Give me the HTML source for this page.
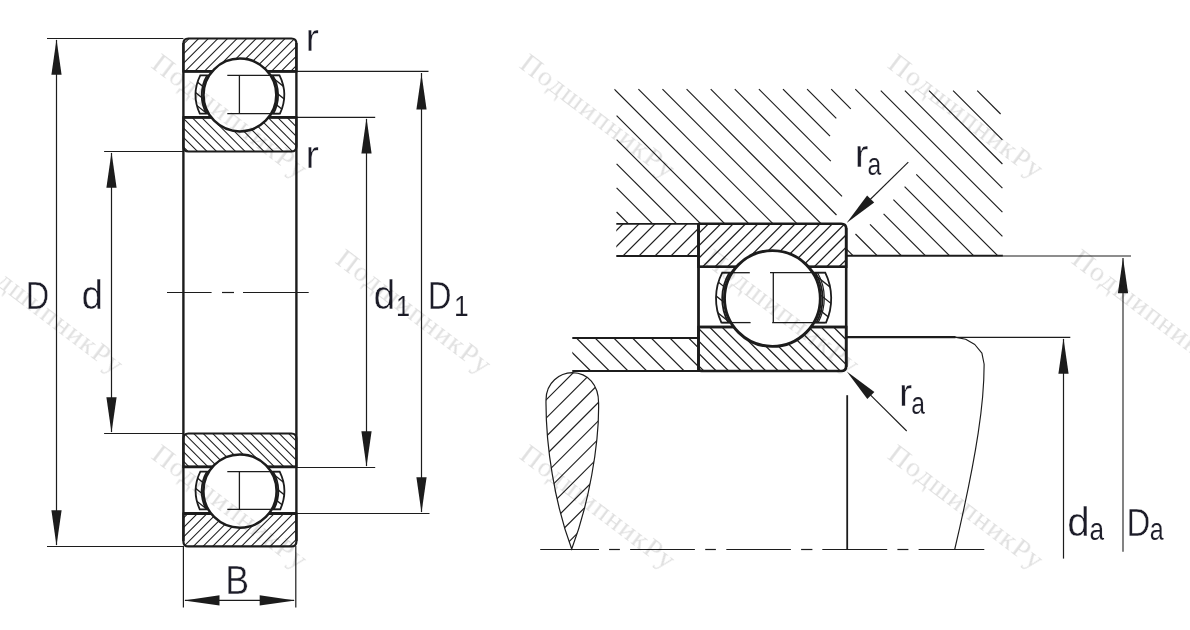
<!DOCTYPE html>
<html><head><meta charset="utf-8"><title>Bearing</title>
<style>html,body{margin:0;padding:0;background:#fff;}svg{display:block}text{font-family:"Liberation Sans",sans-serif;}text.wm{font-family:"Liberation Serif",serif;}</style>
</head><body>
<svg width="1190" height="630" viewBox="0 0 1190 630">
<rect width="1190" height="630" fill="#fff"/>
<defs>
<clipPath id="coU"><path d="M188.4,38.5 L291.4,38.5 Q296.4,38.5 296.4,43.5 L296.4,71.3 Q296.4,71.3 296.4,71.3 L183.4,71.3 Q183.4,71.3 183.4,71.3 L183.4,43.5 Q183.4,38.5 188.4,38.5 Z"/></clipPath><clipPath id="ciU"><path d="M183.4,117.4 L296.4,117.4 Q296.4,117.4 296.4,117.4 L296.4,146.5 Q296.4,151.5 291.4,151.5 L188.4,151.5 Q183.4,151.5 183.4,146.5 L183.4,117.4 Q183.4,117.4 183.4,117.4 Z"/></clipPath>
<clipPath id="cgUl"><path d="M209.23,75.40 L200.28,75.40 A44.2,44.2 0 0 0 199.85,113.70 L208.67,113.70 A36.4,36.4 0 0 1 209.23,75.40 Z"/></clipPath>
<clipPath id="cgUr"><path d="M270.57,75.40 L279.52,75.40 A44.2,44.2 0 0 1 279.95,113.70 L271.13,113.70 A36.4,36.4 0 0 0 270.57,75.40 Z"/></clipPath>
<clipPath id="coL"><path d="M183.4,513.5 L296.4,513.5 Q296.4,513.5 296.4,513.5 L296.4,541.4 Q296.4,546.4 291.4,546.4 L188.4,546.4 Q183.4,546.4 183.4,541.4 L183.4,513.5 Q183.4,513.5 183.4,513.5 Z"/></clipPath><clipPath id="ciL"><path d="M188.4,433.5 L291.4,433.5 Q296.4,433.5 296.4,438.5 L296.4,466.9 Q296.4,466.9 296.4,466.9 L183.4,466.9 Q183.4,466.9 183.4,466.9 L183.4,438.5 Q183.4,433.5 188.4,433.5 Z"/></clipPath>
<clipPath id="cgLl"><path d="M209.03,471.60 L200.33,471.60 A44.2,44.2 0 0 0 199.72,509.30 L208.25,509.30 A36.6,36.6 0 0 1 209.03,471.60 Z"/></clipPath>
<clipPath id="cgLr"><path d="M270.97,471.60 L279.67,471.60 A44.2,44.2 0 0 1 280.28,509.30 L271.75,509.30 A36.6,36.6 0 0 0 270.97,471.60 Z"/></clipPath>
<clipPath id="hs"><path d="M614.3,88 L1004,88 L1004,256 L846.2,256 L846.2,223.8 L614.3,223.8 Z"/></clipPath>
<clipPath id="s1"><rect x="616.3" y="223.8" width="82.20000000000005" height="32.19999999999999"/></clipPath>
<clipPath id="s2"><rect x="572.3" y="337.7" width="126.20000000000005" height="33.30000000000001"/></clipPath>
<clipPath id="td"><path d="M572.3,372.7 C560,373 546,382 546,400 C545.6,445 554.5,503 571.7,549 C588.5,505 599.3,445 598.6,403 C598.6,385 588,373 572.3,372.7 Z"/></clipPath>
<clipPath id="coR"><path d="M699.0,223.8 L841.2,223.8 Q846.2,223.8 846.2,228.8 L846.2,266.8 Q846.2,266.8 846.2,266.8 L698.5,266.8 Q698.5,266.8 698.5,266.8 L698.5,224.3 Q698.5,223.8 699.0,223.8 Z"/></clipPath><clipPath id="ciR"><path d="M698.5,327.0 L846.2,327.0 Q846.2,327.0 846.2,327.0 L846.2,366.0 Q846.2,371.0 841.2,371.0 L701.5,371.0 Q698.5,371.0 698.5,368.0 L698.5,327.0 Q698.5,327.0 698.5,327.0 Z"/></clipPath>
<clipPath id="cgRl"><path d="M732.04,272.70 L722.25,272.70 A56.4,56.4 0 0 0 721.41,322.60 L731.00,322.60 A47.9,47.9 0 0 1 732.04,272.70 Z"/></clipPath>
<clipPath id="cgRr"><path d="M812.76,272.70 L825.24,272.70 A58.8,58.8 0 0 1 826.03,322.60 L813.80,322.60 A47.9,47.9 0 0 0 812.76,272.70 Z"/></clipPath>
</defs>
<g clip-path="url(#coU)" stroke="#1c1c1c" stroke-width="1.05">
<line x1="181.50" y1="36.50" x2="144.70" y2="73.30"/>
<line x1="191.10" y1="36.50" x2="154.30" y2="73.30"/>
<line x1="200.70" y1="36.50" x2="163.90" y2="73.30"/>
<line x1="210.30" y1="36.50" x2="173.50" y2="73.30"/>
<line x1="219.90" y1="36.50" x2="183.10" y2="73.30"/>
<line x1="229.50" y1="36.50" x2="192.70" y2="73.30"/>
<line x1="239.10" y1="36.50" x2="202.30" y2="73.30"/>
<line x1="248.70" y1="36.50" x2="211.90" y2="73.30"/>
<line x1="258.30" y1="36.50" x2="221.50" y2="73.30"/>
<line x1="267.90" y1="36.50" x2="231.10" y2="73.30"/>
<line x1="277.50" y1="36.50" x2="240.70" y2="73.30"/>
<line x1="287.10" y1="36.50" x2="250.30" y2="73.30"/>
<line x1="296.70" y1="36.50" x2="259.90" y2="73.30"/>
<line x1="306.30" y1="36.50" x2="269.50" y2="73.30"/>
<line x1="315.90" y1="36.50" x2="279.10" y2="73.30"/>
<line x1="325.50" y1="36.50" x2="288.70" y2="73.30"/>
<line x1="335.10" y1="36.50" x2="298.30" y2="73.30"/>
</g>
<g clip-path="url(#ciU)" stroke="#1c1c1c" stroke-width="1.05">
<line x1="142.50" y1="115.40" x2="180.60" y2="153.50"/>
<line x1="152.00" y1="115.40" x2="190.10" y2="153.50"/>
<line x1="161.50" y1="115.40" x2="199.60" y2="153.50"/>
<line x1="171.00" y1="115.40" x2="209.10" y2="153.50"/>
<line x1="180.50" y1="115.40" x2="218.60" y2="153.50"/>
<line x1="190.00" y1="115.40" x2="228.10" y2="153.50"/>
<line x1="199.50" y1="115.40" x2="237.60" y2="153.50"/>
<line x1="209.00" y1="115.40" x2="247.10" y2="153.50"/>
<line x1="218.50" y1="115.40" x2="256.60" y2="153.50"/>
<line x1="228.00" y1="115.40" x2="266.10" y2="153.50"/>
<line x1="237.50" y1="115.40" x2="275.60" y2="153.50"/>
<line x1="247.00" y1="115.40" x2="285.10" y2="153.50"/>
<line x1="256.50" y1="115.40" x2="294.60" y2="153.50"/>
<line x1="266.00" y1="115.40" x2="304.10" y2="153.50"/>
<line x1="275.50" y1="115.40" x2="313.60" y2="153.50"/>
<line x1="285.00" y1="115.40" x2="323.10" y2="153.50"/>
<line x1="294.50" y1="115.40" x2="332.60" y2="153.50"/>
</g>
<path d="M188.4,38.5 L291.4,38.5 Q296.4,38.5 296.4,43.5 L296.4,71.3 Q296.4,71.3 296.4,71.3 L183.4,71.3 Q183.4,71.3 183.4,71.3 L183.4,43.5 Q183.4,38.5 188.4,38.5 Z" fill="none" stroke="#1c1c1c" stroke-width="2.2" />
<path d="M183.4,117.4 L296.4,117.4 Q296.4,117.4 296.4,117.4 L296.4,146.5 Q296.4,151.5 291.4,151.5 L188.4,151.5 Q183.4,151.5 183.4,146.5 L183.4,117.4 Q183.4,117.4 183.4,117.4 Z" fill="none" stroke="#1c1c1c" stroke-width="2.2" />
<line x1="183.40" y1="71.30" x2="296.40" y2="71.30" stroke="#1c1c1c" stroke-width="2.8" />
<line x1="183.40" y1="117.40" x2="296.40" y2="117.40" stroke="#1c1c1c" stroke-width="2.8" />
<g clip-path="url(#cgUl)" stroke="#1c1c1c" stroke-width="1.3">
<line x1="185.80" y1="72.74" x2="213.40" y2="94.82"/>
<line x1="185.80" y1="84.71" x2="213.40" y2="106.79"/>
<line x1="185.80" y1="96.68" x2="213.40" y2="118.76"/>
</g>
<path d="M209.23,75.40 L200.28,75.40 A44.2,44.2 0 0 0 199.85,113.70 L208.67,113.70 A36.4,36.4 0 0 1 209.23,75.40 Z" fill="none" stroke="#1c1c1c" stroke-width="1.8" />
<path d="M207.11,75.40 A38.2,38.2 0 0 0 206.59,113.70" fill="none" stroke="#1c1c1c" stroke-width="1.8" />
<g clip-path="url(#cgUr)" stroke="#1c1c1c" stroke-width="1.3">
<line x1="266.40" y1="72.74" x2="294.00" y2="94.82"/>
<line x1="266.40" y1="84.71" x2="294.00" y2="106.79"/>
<line x1="266.40" y1="96.68" x2="294.00" y2="118.76"/>
</g>
<path d="M270.57,75.40 L279.52,75.40 A44.2,44.2 0 0 1 279.95,113.70 L271.13,113.70 A36.4,36.4 0 0 0 270.57,75.40 Z" fill="none" stroke="#1c1c1c" stroke-width="1.8" />
<path d="M272.69,75.40 A38.2,38.2 0 0 1 273.21,113.70" fill="none" stroke="#1c1c1c" stroke-width="1.8" />
<circle cx="239.9" cy="95.00" r="36.4" fill="#fff" stroke="#1c1c1c" stroke-width="2.5"/>
<g clip-path="url(#coL)" stroke="#1c1c1c" stroke-width="1.05">
<line x1="180.30" y1="511.50" x2="143.40" y2="548.40"/>
<line x1="189.90" y1="511.50" x2="153.00" y2="548.40"/>
<line x1="199.50" y1="511.50" x2="162.60" y2="548.40"/>
<line x1="209.10" y1="511.50" x2="172.20" y2="548.40"/>
<line x1="218.70" y1="511.50" x2="181.80" y2="548.40"/>
<line x1="228.30" y1="511.50" x2="191.40" y2="548.40"/>
<line x1="237.90" y1="511.50" x2="201.00" y2="548.40"/>
<line x1="247.50" y1="511.50" x2="210.60" y2="548.40"/>
<line x1="257.10" y1="511.50" x2="220.20" y2="548.40"/>
<line x1="266.70" y1="511.50" x2="229.80" y2="548.40"/>
<line x1="276.30" y1="511.50" x2="239.40" y2="548.40"/>
<line x1="285.90" y1="511.50" x2="249.00" y2="548.40"/>
<line x1="295.50" y1="511.50" x2="258.60" y2="548.40"/>
<line x1="305.10" y1="511.50" x2="268.20" y2="548.40"/>
<line x1="314.70" y1="511.50" x2="277.80" y2="548.40"/>
<line x1="324.30" y1="511.50" x2="287.40" y2="548.40"/>
<line x1="333.90" y1="511.50" x2="297.00" y2="548.40"/>
</g>
<g clip-path="url(#ciL)" stroke="#1c1c1c" stroke-width="1.05">
<line x1="144.20" y1="431.50" x2="181.60" y2="468.90"/>
<line x1="153.70" y1="431.50" x2="191.10" y2="468.90"/>
<line x1="163.20" y1="431.50" x2="200.60" y2="468.90"/>
<line x1="172.70" y1="431.50" x2="210.10" y2="468.90"/>
<line x1="182.20" y1="431.50" x2="219.60" y2="468.90"/>
<line x1="191.70" y1="431.50" x2="229.10" y2="468.90"/>
<line x1="201.20" y1="431.50" x2="238.60" y2="468.90"/>
<line x1="210.70" y1="431.50" x2="248.10" y2="468.90"/>
<line x1="220.20" y1="431.50" x2="257.60" y2="468.90"/>
<line x1="229.70" y1="431.50" x2="267.10" y2="468.90"/>
<line x1="239.20" y1="431.50" x2="276.60" y2="468.90"/>
<line x1="248.70" y1="431.50" x2="286.10" y2="468.90"/>
<line x1="258.20" y1="431.50" x2="295.60" y2="468.90"/>
<line x1="267.70" y1="431.50" x2="305.10" y2="468.90"/>
<line x1="277.20" y1="431.50" x2="314.60" y2="468.90"/>
<line x1="286.70" y1="431.50" x2="324.10" y2="468.90"/>
<line x1="296.20" y1="431.50" x2="333.60" y2="468.90"/>
</g>
<path d="M183.4,513.5 L296.4,513.5 Q296.4,513.5 296.4,513.5 L296.4,541.4 Q296.4,546.4 291.4,546.4 L188.4,546.4 Q183.4,546.4 183.4,541.4 L183.4,513.5 Q183.4,513.5 183.4,513.5 Z" fill="none" stroke="#1c1c1c" stroke-width="2.2" />
<path d="M188.4,433.5 L291.4,433.5 Q296.4,433.5 296.4,438.5 L296.4,466.9 Q296.4,466.9 296.4,466.9 L183.4,466.9 Q183.4,466.9 183.4,466.9 L183.4,438.5 Q183.4,433.5 188.4,433.5 Z" fill="none" stroke="#1c1c1c" stroke-width="2.2" />
<line x1="183.40" y1="513.50" x2="296.40" y2="513.50" stroke="#1c1c1c" stroke-width="2.8" />
<line x1="183.40" y1="466.90" x2="296.40" y2="466.90" stroke="#1c1c1c" stroke-width="2.8" />
<g clip-path="url(#cgLl)" stroke="#1c1c1c" stroke-width="1.3">
<line x1="186.00" y1="468.97" x2="213.20" y2="490.73"/>
<line x1="186.00" y1="480.75" x2="213.20" y2="502.51"/>
<line x1="186.00" y1="492.53" x2="213.20" y2="514.29"/>
</g>
<path d="M209.03,471.60 L200.33,471.60 A44.2,44.2 0 0 0 199.72,509.30 L208.25,509.30 A36.6,36.6 0 0 1 209.03,471.60 Z" fill="none" stroke="#1c1c1c" stroke-width="1.8" />
<path d="M206.92,471.60 A38.4,38.4 0 0 0 206.19,509.30" fill="none" stroke="#1c1c1c" stroke-width="1.8" />
<g clip-path="url(#cgLr)" stroke="#1c1c1c" stroke-width="1.3">
<line x1="266.80" y1="468.97" x2="294.00" y2="490.73"/>
<line x1="266.80" y1="480.75" x2="294.00" y2="502.51"/>
<line x1="266.80" y1="492.53" x2="294.00" y2="514.29"/>
</g>
<path d="M270.97,471.60 L279.67,471.60 A44.2,44.2 0 0 1 280.28,509.30 L271.75,509.30 A36.6,36.6 0 0 0 270.97,471.60 Z" fill="none" stroke="#1c1c1c" stroke-width="1.8" />
<path d="M273.08,471.60 A38.4,38.4 0 0 1 273.81,509.30" fill="none" stroke="#1c1c1c" stroke-width="1.8" />
<circle cx="240.0" cy="491.10" r="36.6" fill="#fff" stroke="#1c1c1c" stroke-width="2.5"/>
<line x1="227.30" y1="75.40" x2="279.50" y2="75.40" stroke="#1c1c1c" stroke-width="1.3" />
<line x1="227.30" y1="113.70" x2="279.50" y2="113.70" stroke="#1c1c1c" stroke-width="1.3" />
<line x1="239.40" y1="75.40" x2="239.40" y2="113.70" stroke="#1c1c1c" stroke-width="1.3" />
<line x1="227.30" y1="471.60" x2="279.50" y2="471.60" stroke="#1c1c1c" stroke-width="1.3" />
<line x1="227.30" y1="509.30" x2="279.50" y2="509.30" stroke="#1c1c1c" stroke-width="1.3" />
<line x1="239.40" y1="471.60" x2="239.40" y2="509.30" stroke="#1c1c1c" stroke-width="1.3" />
<line x1="183.40" y1="43.00" x2="183.40" y2="541.00" stroke="#1c1c1c" stroke-width="2.4" />
<line x1="296.40" y1="43.00" x2="296.40" y2="541.00" stroke="#1c1c1c" stroke-width="2.4" />
<line x1="167.00" y1="292.50" x2="211.60" y2="292.50" stroke="#1c1c1c" stroke-width="1.2" />
<line x1="222.00" y1="292.50" x2="234.00" y2="292.50" stroke="#1c1c1c" stroke-width="1.2" />
<line x1="243.00" y1="292.50" x2="308.70" y2="292.50" stroke="#1c1c1c" stroke-width="1.2" />
<line x1="47.00" y1="38.50" x2="183.40" y2="38.50" stroke="#1c1c1c" stroke-width="1.2" />
<line x1="47.00" y1="546.50" x2="183.40" y2="546.50" stroke="#1c1c1c" stroke-width="1.2" />
<line x1="56.50" y1="40.00" x2="56.50" y2="545.00" stroke="#1c1c1c" stroke-width="1.2" />
<polygon points="56.50,39.30 61.60,74.80 51.40,74.80" fill="#1c1c1c"/>
<polygon points="56.50,545.80 51.40,510.30 61.60,510.30" fill="#1c1c1c"/>
<line x1="104.10" y1="151.50" x2="183.40" y2="151.50" stroke="#1c1c1c" stroke-width="1.2" />
<line x1="104.10" y1="433.50" x2="183.40" y2="433.50" stroke="#1c1c1c" stroke-width="1.2" />
<line x1="111.50" y1="153.00" x2="111.50" y2="432.00" stroke="#1c1c1c" stroke-width="1.2" />
<polygon points="111.50,152.20 116.60,187.70 106.40,187.70" fill="#1c1c1c"/>
<polygon points="111.50,432.80 106.40,397.30 116.60,397.30" fill="#1c1c1c"/>
<line x1="296.40" y1="117.30" x2="375.20" y2="117.30" stroke="#1c1c1c" stroke-width="1.2" />
<line x1="296.40" y1="467.50" x2="375.20" y2="467.50" stroke="#1c1c1c" stroke-width="1.2" />
<line x1="366.50" y1="119.00" x2="366.50" y2="466.00" stroke="#1c1c1c" stroke-width="1.2" />
<polygon points="366.50,118.00 371.60,153.50 361.40,153.50" fill="#1c1c1c"/>
<polygon points="366.50,466.80 361.40,431.30 371.60,431.30" fill="#1c1c1c"/>
<line x1="296.40" y1="71.40" x2="428.50" y2="71.40" stroke="#1c1c1c" stroke-width="1.2" />
<line x1="296.40" y1="513.50" x2="429.50" y2="513.50" stroke="#1c1c1c" stroke-width="1.2" />
<line x1="421.50" y1="73.00" x2="421.50" y2="512.00" stroke="#1c1c1c" stroke-width="1.2" />
<polygon points="421.50,74.00 426.60,109.50 416.40,109.50" fill="#1c1c1c"/>
<polygon points="421.50,512.80 416.40,477.30 426.60,477.30" fill="#1c1c1c"/>
<line x1="183.40" y1="546.00" x2="183.40" y2="607.60" stroke="#1c1c1c" stroke-width="1.2" />
<line x1="295.80" y1="546.00" x2="295.80" y2="607.60" stroke="#1c1c1c" stroke-width="1.2" />
<line x1="185.00" y1="600.40" x2="294.00" y2="600.40" stroke="#1c1c1c" stroke-width="1.2" />
<polygon points="184.00,600.40 219.50,595.30 219.50,605.50" fill="#1c1c1c"/>
<polygon points="295.20,600.40 259.70,605.50 259.70,595.30" fill="#1c1c1c"/>
<g opacity="0.99">
<text transform="translate(25.84,309.36) scale(0.3249,0.3904)" font-size="100" fill="#1a1a26" stroke="#fff" stroke-width="1.12">D</text>
<text transform="translate(81.47,309.36) scale(0.3875,0.3994)" font-size="100" fill="#1a1a26" stroke="#fff" stroke-width="1.02">d</text>
<text transform="translate(373.45,309.36) scale(0.3920,0.3994)" font-size="100" fill="#1a1a26" stroke="#fff" stroke-width="1.01">d</text>
<text transform="translate(395.98,316.22) scale(0.2549,0.2893)" font-size="100" fill="#1a1a26" stroke="#fff" stroke-width="0.59">1</text>
<text transform="translate(427.69,309.36) scale(0.3299,0.3904)" font-size="100" fill="#1a1a26" stroke="#fff" stroke-width="1.11">D</text>
<text transform="translate(453.91,316.22) scale(0.2642,0.2893)" font-size="100" fill="#1a1a26" stroke="#fff" stroke-width="0.58">1</text>
<text transform="translate(305.45,50.66) scale(0.4016,0.3933)" font-size="100" fill="#1a1a26" stroke="#fff" stroke-width="1.01">r</text>
<text transform="translate(305.45,168.16) scale(0.4016,0.3952)" font-size="100" fill="#1a1a26" stroke="#fff" stroke-width="1.00">r</text>
<text transform="translate(225.37,593.86) scale(0.3578,0.4049)" font-size="100" fill="#1a1a26" stroke="#fff" stroke-width="1.05">B</text>
</g>
<g clip-path="url(#hs)" stroke="#1c1c1c" stroke-width="1.15">
<line x1="616.60" y1="260.20" x2="616.40" y2="260.00"/>
<line x1="616.60" y1="236.10" x2="640.50" y2="260.00"/>
<line x1="616.60" y1="212.00" x2="664.60" y2="260.00"/>
<line x1="616.60" y1="187.90" x2="688.70" y2="260.00"/>
<line x1="616.60" y1="163.80" x2="712.80" y2="260.00"/>
<line x1="616.60" y1="139.70" x2="736.90" y2="260.00"/>
<line x1="616.60" y1="115.60" x2="761.00" y2="260.00"/>
<line x1="614.30" y1="89.20" x2="785.10" y2="260.00"/>
<line x1="638.40" y1="89.20" x2="809.20" y2="260.00"/>
<line x1="662.50" y1="89.20" x2="833.30" y2="260.00"/>
<line x1="686.60" y1="89.20" x2="857.40" y2="260.00"/>
<line x1="710.70" y1="89.20" x2="836.50" y2="215.00"/>
<line x1="855.50" y1="234.00" x2="881.50" y2="260.00"/>
<line x1="734.80" y1="89.20" x2="842.00" y2="196.40"/>
<line x1="870.00" y1="224.40" x2="905.60" y2="260.00"/>
<line x1="758.90" y1="89.20" x2="830.80" y2="161.10"/>
<line x1="883.60" y1="213.90" x2="929.70" y2="260.00"/>
<line x1="783.00" y1="89.20" x2="830.00" y2="136.20"/>
<line x1="893.40" y1="199.60" x2="953.80" y2="260.00"/>
<line x1="807.10" y1="89.20" x2="836.30" y2="118.40"/>
<line x1="904.60" y1="186.70" x2="977.90" y2="260.00"/>
<line x1="831.20" y1="89.20" x2="850.80" y2="108.80"/>
<line x1="916.30" y1="174.30" x2="1002.00" y2="260.00"/>
<line x1="855.30" y1="89.20" x2="1002.40" y2="236.30"/>
<line x1="880.80" y1="90.60" x2="1002.40" y2="212.20"/>
<line x1="904.90" y1="90.60" x2="1002.40" y2="188.10"/>
<line x1="929.00" y1="90.60" x2="1002.40" y2="164.00"/>
<line x1="953.10" y1="90.60" x2="1002.40" y2="139.90"/>
<line x1="977.20" y1="90.60" x2="1000.60" y2="114.00"/>
</g>
<g clip-path="url(#s1)" stroke="#1c1c1c" stroke-width="1.2">
<line x1="609.10" y1="221.80" x2="572.90" y2="258.00"/>
<line x1="625.10" y1="221.80" x2="588.90" y2="258.00"/>
<line x1="641.10" y1="221.80" x2="604.90" y2="258.00"/>
<line x1="657.10" y1="221.80" x2="620.90" y2="258.00"/>
<line x1="673.10" y1="221.80" x2="636.90" y2="258.00"/>
<line x1="689.10" y1="221.80" x2="652.90" y2="258.00"/>
<line x1="705.10" y1="221.80" x2="668.90" y2="258.00"/>
<line x1="721.10" y1="221.80" x2="684.90" y2="258.00"/>
<line x1="737.10" y1="221.80" x2="700.90" y2="258.00"/>
</g>
<line x1="616.30" y1="223.80" x2="698.50" y2="223.80" stroke="#1c1c1c" stroke-width="1.8" />
<line x1="616.30" y1="256.00" x2="698.50" y2="256.00" stroke="#1c1c1c" stroke-width="2.2" />
<line x1="846.20" y1="255.80" x2="1002.90" y2="255.80" stroke="#1c1c1c" stroke-width="2.0" />
<g clip-path="url(#s2)" stroke="#1c1c1c" stroke-width="1.2">
<line x1="536.70" y1="335.70" x2="574.00" y2="373.00"/>
<line x1="555.40" y1="335.70" x2="592.70" y2="373.00"/>
<line x1="574.10" y1="335.70" x2="611.40" y2="373.00"/>
<line x1="592.80" y1="335.70" x2="630.10" y2="373.00"/>
<line x1="611.50" y1="335.70" x2="648.80" y2="373.00"/>
<line x1="630.20" y1="335.70" x2="667.50" y2="373.00"/>
<line x1="648.90" y1="335.70" x2="686.20" y2="373.00"/>
<line x1="667.60" y1="335.70" x2="704.90" y2="373.00"/>
<line x1="686.30" y1="335.70" x2="723.60" y2="373.00"/>
<line x1="705.00" y1="335.70" x2="742.30" y2="373.00"/>
</g>
<line x1="572.30" y1="338.00" x2="698.50" y2="338.00" stroke="#1c1c1c" stroke-width="2.2" />
<line x1="572.30" y1="371.00" x2="701.50" y2="371.00" stroke="#1c1c1c" stroke-width="2.2" />
<line x1="846.20" y1="337.10" x2="955.50" y2="337.10" stroke="#1c1c1c" stroke-width="2.2" />
<path d="M954.8,337.1 L965.7,339.3 L974.8,344.5 L981.9,353.1 L984.1,364 C984.3,400 978,450 954.7,549.5" fill="none" stroke="#1c1c1c" stroke-width="1.15" stroke-linejoin="round"/>
<g clip-path="url(#td)" stroke="#1c1c1c" stroke-width="1.15">
<line x1="539.40" y1="370.00" x2="357.40" y2="552.00"/>
<line x1="557.70" y1="370.00" x2="375.70" y2="552.00"/>
<line x1="576.00" y1="370.00" x2="394.00" y2="552.00"/>
<line x1="594.30" y1="370.00" x2="412.30" y2="552.00"/>
<line x1="612.60" y1="370.00" x2="430.60" y2="552.00"/>
<line x1="630.90" y1="370.00" x2="448.90" y2="552.00"/>
<line x1="649.20" y1="370.00" x2="467.20" y2="552.00"/>
<line x1="667.50" y1="370.00" x2="485.50" y2="552.00"/>
<line x1="685.80" y1="370.00" x2="503.80" y2="552.00"/>
<line x1="704.10" y1="370.00" x2="522.10" y2="552.00"/>
<line x1="722.40" y1="370.00" x2="540.40" y2="552.00"/>
<line x1="740.70" y1="370.00" x2="558.70" y2="552.00"/>
<line x1="759.00" y1="370.00" x2="577.00" y2="552.00"/>
<line x1="777.30" y1="370.00" x2="595.30" y2="552.00"/>
<line x1="795.60" y1="370.00" x2="613.60" y2="552.00"/>
</g>
<path d="M572.3,372.7 C560,373 546,382 546,400 C545.6,445 554.5,503 571.7,549 C588.5,505 599.3,445 598.6,403 C598.6,385 588,373 572.3,372.7 Z" fill="none" stroke="#1c1c1c" stroke-width="1.2" />
<line x1="540.20" y1="549.50" x2="599.00" y2="549.50" stroke="#1c1c1c" stroke-width="1.2" />
<line x1="609.10" y1="549.50" x2="619.90" y2="549.50" stroke="#1c1c1c" stroke-width="1.2" />
<line x1="630.10" y1="549.50" x2="694.90" y2="549.50" stroke="#1c1c1c" stroke-width="1.2" />
<line x1="705.20" y1="549.50" x2="715.90" y2="549.50" stroke="#1c1c1c" stroke-width="1.2" />
<line x1="726.30" y1="549.50" x2="790.90" y2="549.50" stroke="#1c1c1c" stroke-width="1.2" />
<line x1="801.10" y1="549.50" x2="812.40" y2="549.50" stroke="#1c1c1c" stroke-width="1.2" />
<line x1="822.30" y1="549.50" x2="887.20" y2="549.50" stroke="#1c1c1c" stroke-width="1.2" />
<line x1="897.40" y1="549.50" x2="908.40" y2="549.50" stroke="#1c1c1c" stroke-width="1.2" />
<line x1="918.60" y1="549.50" x2="984.30" y2="549.50" stroke="#1c1c1c" stroke-width="1.2" />
<line x1="847.20" y1="395.20" x2="847.20" y2="549.50" stroke="#1c1c1c" stroke-width="1.8" />
<g clip-path="url(#coR)" stroke="#1c1c1c" stroke-width="1.25">
<line x1="698.00" y1="221.80" x2="651.00" y2="268.80"/>
<line x1="710.40" y1="221.80" x2="663.40" y2="268.80"/>
<line x1="722.80" y1="221.80" x2="675.80" y2="268.80"/>
<line x1="735.20" y1="221.80" x2="688.20" y2="268.80"/>
<line x1="747.60" y1="221.80" x2="700.60" y2="268.80"/>
<line x1="760.00" y1="221.80" x2="713.00" y2="268.80"/>
<line x1="772.40" y1="221.80" x2="725.40" y2="268.80"/>
<line x1="784.80" y1="221.80" x2="737.80" y2="268.80"/>
<line x1="797.20" y1="221.80" x2="750.20" y2="268.80"/>
<line x1="809.60" y1="221.80" x2="762.60" y2="268.80"/>
<line x1="822.00" y1="221.80" x2="775.00" y2="268.80"/>
<line x1="834.40" y1="221.80" x2="787.40" y2="268.80"/>
<line x1="846.80" y1="221.80" x2="799.80" y2="268.80"/>
<line x1="859.20" y1="221.80" x2="812.20" y2="268.80"/>
<line x1="871.60" y1="221.80" x2="824.60" y2="268.80"/>
<line x1="884.00" y1="221.80" x2="837.00" y2="268.80"/>
<line x1="896.40" y1="221.80" x2="849.40" y2="268.80"/>
</g>
<g clip-path="url(#ciR)" stroke="#1c1c1c" stroke-width="1.25">
<line x1="645.50" y1="325.00" x2="693.50" y2="373.00"/>
<line x1="657.90" y1="325.00" x2="705.90" y2="373.00"/>
<line x1="670.30" y1="325.00" x2="718.30" y2="373.00"/>
<line x1="682.70" y1="325.00" x2="730.70" y2="373.00"/>
<line x1="695.10" y1="325.00" x2="743.10" y2="373.00"/>
<line x1="707.50" y1="325.00" x2="755.50" y2="373.00"/>
<line x1="719.90" y1="325.00" x2="767.90" y2="373.00"/>
<line x1="732.30" y1="325.00" x2="780.30" y2="373.00"/>
<line x1="744.70" y1="325.00" x2="792.70" y2="373.00"/>
<line x1="757.10" y1="325.00" x2="805.10" y2="373.00"/>
<line x1="769.50" y1="325.00" x2="817.50" y2="373.00"/>
<line x1="781.90" y1="325.00" x2="829.90" y2="373.00"/>
<line x1="794.30" y1="325.00" x2="842.30" y2="373.00"/>
<line x1="806.70" y1="325.00" x2="854.70" y2="373.00"/>
<line x1="819.10" y1="325.00" x2="867.10" y2="373.00"/>
<line x1="831.50" y1="325.00" x2="879.50" y2="373.00"/>
<line x1="843.90" y1="325.00" x2="891.90" y2="373.00"/>
<line x1="856.30" y1="325.00" x2="904.30" y2="373.00"/>
</g>
<path d="M699.0,223.8 L841.2,223.8 Q846.2,223.8 846.2,228.8 L846.2,266.8 Q846.2,266.8 846.2,266.8 L698.5,266.8 Q698.5,266.8 698.5,266.8 L698.5,224.3 Q698.5,223.8 699.0,223.8 Z" fill="none" stroke="#1c1c1c" stroke-width="2.6" />
<path d="M698.5,327.0 L846.2,327.0 Q846.2,327.0 846.2,327.0 L846.2,366.0 Q846.2,371.0 841.2,371.0 L701.5,371.0 Q698.5,371.0 698.5,368.0 L698.5,327.0 Q698.5,327.0 698.5,327.0 Z" fill="none" stroke="#1c1c1c" stroke-width="2.6" />
<line x1="698.50" y1="266.80" x2="846.20" y2="266.80" stroke="#1c1c1c" stroke-width="2.3" />
<line x1="698.50" y1="327.00" x2="846.20" y2="327.00" stroke="#1c1c1c" stroke-width="2.3" />
<g clip-path="url(#cgRl)" stroke="#1c1c1c" stroke-width="1.3">
<line x1="705.75" y1="272.02" x2="734.75" y2="295.22"/>
<line x1="705.75" y1="287.61" x2="734.75" y2="310.81"/>
<line x1="705.75" y1="303.20" x2="734.75" y2="326.40"/>
</g>
<path d="M732.04,272.70 L722.25,272.70 A56.4,56.4 0 0 0 721.41,322.60 L731.00,322.60 A47.9,47.9 0 0 1 732.04,272.70 Z" fill="none" stroke="#1c1c1c" stroke-width="1.8" />
<path d="M729.34,272.70 A50.2,50.2 0 0 0 728.36,322.60" fill="none" stroke="#1c1c1c" stroke-width="1.8" />
<g clip-path="url(#cgRr)" stroke="#1c1c1c" stroke-width="1.3">
<line x1="808.85" y1="270.10" x2="842.65" y2="297.14"/>
<line x1="808.85" y1="285.69" x2="842.65" y2="312.73"/>
<line x1="808.85" y1="301.28" x2="842.65" y2="328.32"/>
</g>
<path d="M812.76,272.70 L825.24,272.70 A58.8,58.8 0 0 1 826.03,322.60 L813.80,322.60 A47.9,47.9 0 0 0 812.76,272.70 Z" fill="none" stroke="#1c1c1c" stroke-width="1.8" />
<path d="M815.46,272.70 A50.2,50.2 0 0 1 816.44,322.60" fill="none" stroke="#1c1c1c" stroke-width="1.8" />
<circle cx="772.4" cy="298.50" r="47.9" fill="#fff" stroke="#1c1c1c" stroke-width="2.9"/>
<line x1="698.50" y1="223.80" x2="698.50" y2="371.00" stroke="#1c1c1c" stroke-width="2.8" />
<line x1="846.20" y1="227.80" x2="846.20" y2="367.00" stroke="#1c1c1c" stroke-width="2.6" />
<path d="M817.60,272.7 A51.8,51.8 0 0 1 818.15,322.6" fill="none" stroke="#1c1c1c" stroke-width="1.2" />
<line x1="722.00" y1="272.70" x2="749.80" y2="272.70" stroke="#1c1c1c" stroke-width="1.3" />
<line x1="722.00" y1="322.60" x2="750.60" y2="322.60" stroke="#1c1c1c" stroke-width="1.3" />
<line x1="770.00" y1="272.70" x2="825.00" y2="272.70" stroke="#1c1c1c" stroke-width="1.3" />
<line x1="772.20" y1="322.60" x2="825.00" y2="322.60" stroke="#1c1c1c" stroke-width="1.3" />
<line x1="773.30" y1="272.70" x2="773.30" y2="322.60" stroke="#1c1c1c" stroke-width="1.3" />
<polygon points="846.60,223.00 867.11,195.42 874.18,202.49" fill="#1c1c1c"/>
<line x1="866.60" y1="203.00" x2="908.30" y2="162.10" stroke="#1c1c1c" stroke-width="1.1" />
<polygon points="846.80,371.40 874.38,391.91 867.31,398.98" fill="#1c1c1c"/>
<line x1="866.80" y1="391.40" x2="906.70" y2="431.00" stroke="#1c1c1c" stroke-width="1.1" />
<line x1="1002.90" y1="256.00" x2="1131.00" y2="256.00" stroke="#1c1c1c" stroke-width="1.1" />
<line x1="1123.00" y1="258.00" x2="1123.00" y2="551.80" stroke="#1c1c1c" stroke-width="1.1" />
<polygon points="1123.00,257.80 1128.10,293.30 1117.90,293.30" fill="#1c1c1c"/>
<line x1="955.50" y1="337.30" x2="1070.30" y2="337.30" stroke="#1c1c1c" stroke-width="1.2" />
<line x1="1063.50" y1="339.00" x2="1063.50" y2="558.60" stroke="#1c1c1c" stroke-width="1.2" />
<polygon points="1063.50,338.20 1068.60,373.70 1058.40,373.70" fill="#1c1c1c"/>
<g opacity="0.99">
<text transform="translate(854.52,166.76) scale(0.4217,0.3914)" font-size="100" fill="#1a1a26" stroke="#fff" stroke-width="0.98">r</text>
<text transform="translate(867.48,174.62) scale(0.2468,0.3142)" font-size="100" fill="#1a1a26" stroke="#fff" stroke-width="0.57">a</text>
<text transform="translate(899.08,405.76) scale(0.3976,0.3933)" font-size="100" fill="#1a1a26" stroke="#fff" stroke-width="1.01">r</text>
<text transform="translate(911.18,413.52) scale(0.2468,0.3068)" font-size="100" fill="#1a1a26" stroke="#fff" stroke-width="0.58">a</text>
<text transform="translate(1067.21,535.56) scale(0.4031,0.4063)" font-size="100" fill="#1a1a26" stroke="#fff" stroke-width="0.99">d</text>
<text transform="translate(1089.52,540.42) scale(0.2624,0.3198)" font-size="100" fill="#1a1a26" stroke="#fff" stroke-width="0.55">a</text>
<text transform="translate(1126.49,535.56) scale(0.3299,0.3919)" font-size="100" fill="#1a1a26" stroke="#fff" stroke-width="1.11">D</text>
<text transform="translate(1149.87,540.42) scale(0.2507,0.3198)" font-size="100" fill="#1a1a26" stroke="#fff" stroke-width="0.56">a</text>
</g>
<g opacity="0.125">
<text transform="translate(150.08,66.87) rotate(37.2)" class="wm" font-size="28" letter-spacing="1.4" fill="#000">ПодшипникРу</text>
<text transform="translate(518.18,66.87) rotate(37.2)" class="wm" font-size="28" letter-spacing="1.4" fill="#000">ПодшипникРу</text>
<text transform="translate(886.28,66.87) rotate(37.2)" class="wm" font-size="28" letter-spacing="1.4" fill="#000">ПодшипникРу</text>
<text transform="translate(-33.92,262.27) rotate(37.2)" class="wm" font-size="28" letter-spacing="1.4" fill="#000">ПодшипникРу</text>
<text transform="translate(334.13,262.27) rotate(37.2)" class="wm" font-size="28" letter-spacing="1.4" fill="#000">ПодшипникРу</text>
<text transform="translate(702.18,262.27) rotate(37.2)" class="wm" font-size="28" letter-spacing="1.4" fill="#000">ПодшипникРу</text>
<text transform="translate(1070.23,262.27) rotate(37.2)" class="wm" font-size="28" letter-spacing="1.4" fill="#000">ПодшипникРу</text>
<text transform="translate(150.08,457.67) rotate(37.2)" class="wm" font-size="28" letter-spacing="1.4" fill="#000">ПодшипникРу</text>
<text transform="translate(518.18,457.67) rotate(37.2)" class="wm" font-size="28" letter-spacing="1.4" fill="#000">ПодшипникРу</text>
<text transform="translate(886.28,457.67) rotate(37.2)" class="wm" font-size="28" letter-spacing="1.4" fill="#000">ПодшипникРу</text>
</g>
</svg>
</body></html>
